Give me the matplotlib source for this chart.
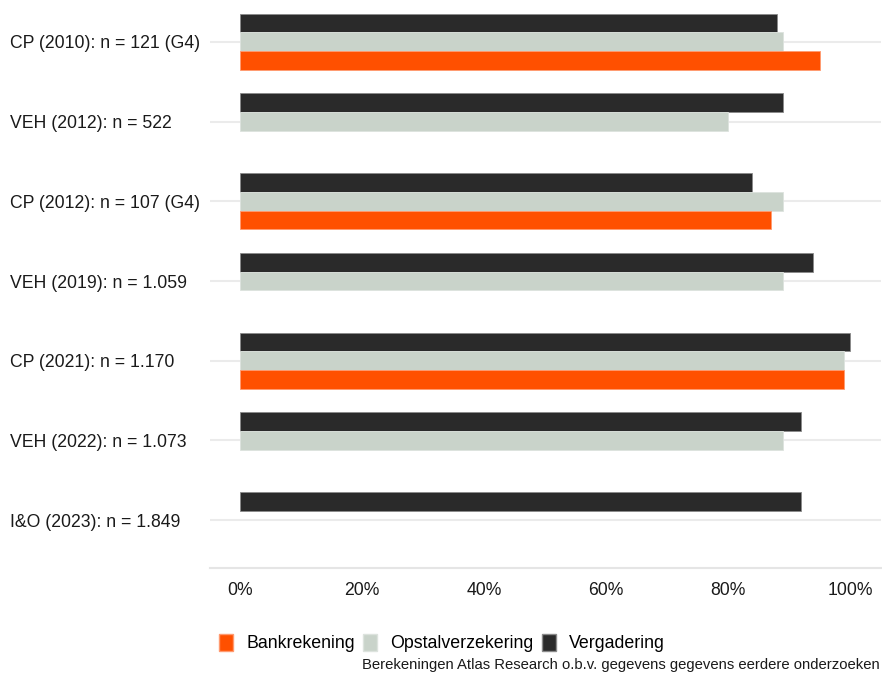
import matplotlib.pyplot as plt
from matplotlib.patches import Patch
import numpy as np

plt.rcParams["font.family"] = ["Liberation Sans", "DejaVu Sans"]

CATEGORIES = [
    "CP (2010): n = 121 (G4)",
    "VEH (2012): n = 522",
    "CP (2012): n = 107 (G4)",
    "VEH (2019): n = 1.059",
    "CP (2021): n = 1.170",
    "VEH (2022): n = 1.073",
    "I&O (2023): n = 1.849",
]
VERGADERING = [88, 89, 84, 94, 100, 92, 92]
OPSTAL = [89, 80, 89, 89, 99, 89, np.nan]
BANK = [95, np.nan, 87, np.nan, 99, np.nan, np.nan]
TICKS = [0, 20, 40, 60, 80, 100]
CAPTION = "Berekeningen Atlas Research o.b.v. gegevens gegevens eerdere onderzoeken"

C_BANK = "#FF5000"
C_OPSTAL = "#C9D3CA"
C_VERG = "#2A2A2A"

W, H = 882, 673
fig = plt.figure(figsize=(W / 100, H / 100), dpi=100)
ax = fig.add_axes([209.5 / W, 105 / H, 671 / W, (568 + 6) / H])

y = np.arange(len(CATEGORIES))[::-1].astype(float)
bh = 0.235
ax.barh(y + bh, VERGADERING, height=bh, color=C_VERG, edgecolor="#8a8a8a", linewidth=0.6, zorder=3)
ax.barh(y, OPSTAL, height=bh, color=C_OPSTAL, edgecolor="#dde3de", linewidth=0.6, zorder=3)
ax.barh(y - bh, BANK, height=bh, color=C_BANK, edgecolor="#ff9a70", linewidth=0.6, zorder=3)

ax.set_xlim(-5, 105)
ax.set_ylim(-0.6, len(CATEGORIES) - 0.4)
ax.set_yticks(y)
ax.set_yticklabels(CATEGORIES, fontsize=12.7, color="#1a1a1a")
for lab in ax.get_yticklabels():
    lab.set_horizontalalignment("left")
ax.tick_params(axis="y", length=0, pad=144)
ax.set_xticks(TICKS)
ax.set_xticklabels([f"{t}%" for t in TICKS], fontsize=12.7, color="#1a1a1a")
ax.tick_params(axis="x", length=0, pad=10)

ax.grid(axis="y", color="#EBEBEB", linewidth=1.5, zorder=0)
for s in ["top", "right", "left"]:
    ax.spines[s].set_visible(False)
ax.spines["bottom"].set_color("#E5E5E5")
ax.spines["bottom"].set_linewidth(1.5)

handles = [
    Patch(facecolor=C_BANK, edgecolor="#ff9a70", label="Bankrekening"),
    Patch(facecolor=C_OPSTAL, edgecolor="#dde3de", label="Opstalverzekering"),
    Patch(facecolor=C_VERG, edgecolor="#8a8a8a", label="Vergadering"),
]
fig.legend(handles=handles, loc="center", bbox_to_anchor=(442 / W, 1 - 643 / H),
           ncol=3, frameon=False, fontsize=12.8, handlelength=0.8, handleheight=1.1,
           handletextpad=0.75, columnspacing=0.45)

fig.text(880 / W, 1 - 665 / H, CAPTION, ha="right", va="center", fontsize=10.7, color="#1a1a1a")

fig.savefig("out.png", dpi=100)
